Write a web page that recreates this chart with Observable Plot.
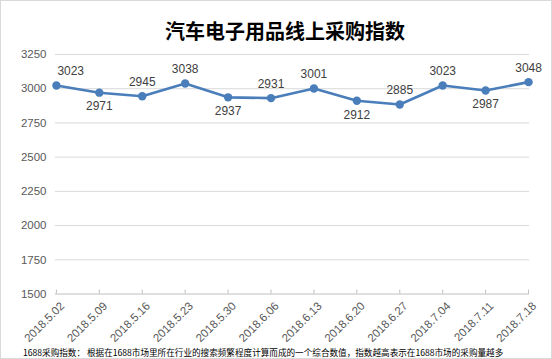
<!DOCTYPE html>
<html>
<head>
<meta charset="utf-8">
<script src="https://cdn.jsdelivr.net/npm/d3@7"></script>
<script src="https://cdn.jsdelivr.net/npm/@observablehq/plot@0.6"></script>
<style>
  html, body { margin: 0; padding: 0; background: #fff; }
  #frame { position: relative; width: 552px; height: 359px; box-sizing: border-box; border: 1px solid #d9d9d9; overflow: hidden; background: #fff; }
  #title { position: absolute; top: 0; left: 16px; width: 536px; height: 43px; line-height: 60px; text-align: center; font-family: "Noto Sans CJK SC", sans-serif; font-weight: bold; font-size: 20px; color: #000; }
  #chart { position: absolute; top: 43px; left: -1px; }
  #caption { position: absolute; top: 345px; left: 22px; font-family: "Noto Sans CJK SC", sans-serif; font-size: 8.6px; color: #000; white-space: nowrap; line-height: 12px; }
</style>
</head>
<body>
<div id="frame">
  <div id="title">汽车电子用品线上采购指数</div>
  <div id="chart"></div>
  <div id="caption">1688采购指数： 根据在1688市场里所在行业的搜索频繁程度计算而成的一个综合数值，指数越高表示在1688市场的采购量越多</div>
</div>
<script>
const dates = ["2018.5.02", "2018.5.09", "2018.5.16", "2018.5.23", "2018.5.30", "2018.6.06", "2018.6.13", "2018.6.20", "2018.6.27", "2018.7.04", "2018.7.11", "2018.7.18"];
const values = [3023, 2971, 2945, 3038, 2937, 2931, 3001, 2912, 2885, 3023, 2987, 3048];
const labelSide = ["top", "bottom", "top", "top", "bottom", "top", "top", "bottom", "top", "top", "bottom", "top"];
const yTicks = [1500, 1750, 2000, 2250, 2500, 2750, 3000, 3250];

const data = dates.map((d, i) => ({date: d, value: values[i], side: labelSide[i], i}));
const blue = "#4a7ebb";

const chart = Plot.plot({
  width: 552,
  height: 316,
  marginLeft: 55,
  marginRight: 22,
  marginTop: 10,
  marginBottom: 66,
  x: {type: "point", domain: dates, padding: 0, label: null},
  y: {domain: [1500, 3250], label: null},
  style: {fontFamily: "'Liberation Sans', sans-serif", fontSize: "11px", color: "#595959", background: "transparent"},
  marks: [
    Plot.gridY(yTicks.filter(t => t > 1500), {stroke: "#d9d9d9", strokeOpacity: 1}),
    Plot.ruleY([1500], {stroke: "#bfbfbf"}),
    Plot.ruleX(dates, {x: d => d, insetTop: 236, stroke: "#bfbfbf"}),
    Plot.axisY({ticks: yTicks, tickFormat: "d", tickSize: 0, tickPadding: 9, fontSize: 11.5, fill: "#595959"}),
    Plot.axisX({tickSize: 0, tickRotate: -45, tickPadding: 10, fontSize: 11.5, fill: "#595959", dx: 6}),
    Plot.line(data, {x: "date", y: "value", stroke: blue, strokeWidth: 2.6}),
    Plot.dot(data, {x: "date", y: "value", r: 4.2, fill: blue}),
    Plot.text(data.filter(d => d.side === "top" && d.i > 0), {x: "date", y: "value", text: d => String(d.value), dy: -14, fontSize: 12, fill: "#404040"}),
    Plot.text(data.filter(d => d.side === "top" && d.i === 0), {x: "date", y: "value", text: d => String(d.value), dy: -14, dx: 1, textAnchor: "start", fontSize: 12, fill: "#404040"}),
    Plot.text(data.filter(d => d.side === "bottom"), {x: "date", y: "value", text: d => String(d.value), dy: 14, fontSize: 12, fill: "#404040"})
  ]
});
document.getElementById("chart").appendChild(chart);
</script>
</body>
</html>
